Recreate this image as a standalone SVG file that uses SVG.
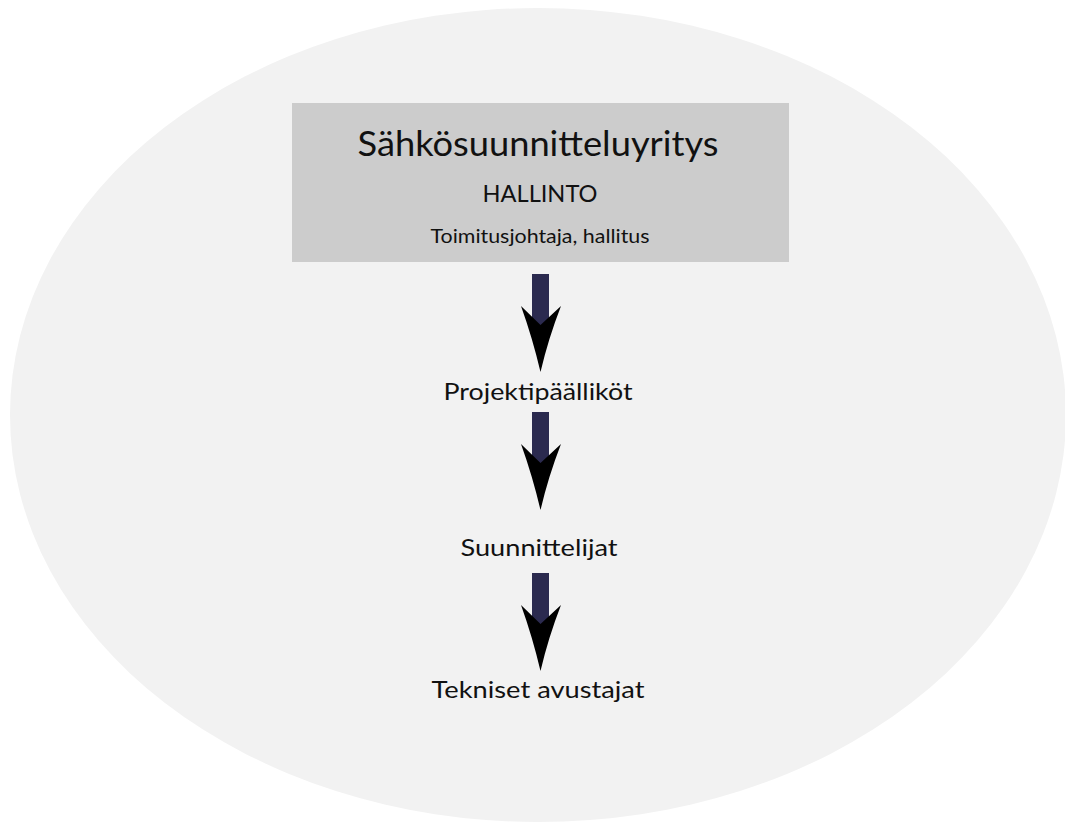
<svg xmlns="http://www.w3.org/2000/svg" width="1065" height="823" viewBox="0 0 1065 823">
<defs>
<style>
text{font-family:Lato,"Open Sans","Liberation Sans",sans-serif;fill:#111;text-anchor:middle}
.shaft{fill:#2b2a4f}
.head{fill:#000}
</style>
<g id="arrowShape">
<rect class="shaft" x="-8.5" y="0" width="17" height="60"/>
<path class="head" d="M-19.5,32 L0,51 L20.5,32 Q8,64 0,98 Q-8,64 -19.5,32 Z"/>
</g>
</defs>
<rect width="1065" height="823" fill="#fff"/>
<ellipse cx="538" cy="415" rx="528" ry="407" fill="#f2f2f2"/>
<g id="hallinto">
<rect x="292" y="103" width="497" height="159" fill="#cccccc"/>
<text x="538" y="156" font-size="34" textLength="361" lengthAdjust="spacingAndGlyphs">Sähkösuunnitteluyritys</text>
<text x="540" y="202" font-size="24" textLength="115" lengthAdjust="spacingAndGlyphs">HALLINTO</text>
<text x="540" y="243" font-size="19" textLength="219" lengthAdjust="spacingAndGlyphs">Toimitusjohtaja, hallitus</text>
</g>
<g id="projektipaallikot">
<text x="538" y="400" font-size="24" textLength="189" lengthAdjust="spacingAndGlyphs">Projektipäälliköt</text>
</g>
<g id="suunnittelijat">
<text x="539" y="556" font-size="24" textLength="157" lengthAdjust="spacingAndGlyphs">Suunnittelijat</text>
</g>
<g id="tekniset">
<text x="538" y="698" font-size="24" textLength="213" lengthAdjust="spacingAndGlyphs">Tekniset avustajat</text>
</g>
<g id="connectors">
<use href="#arrowShape" x="540.5" y="274"/>
<use href="#arrowShape" x="540.5" y="412"/>
<use href="#arrowShape" x="540.5" y="573"/>
</g>
</svg>
